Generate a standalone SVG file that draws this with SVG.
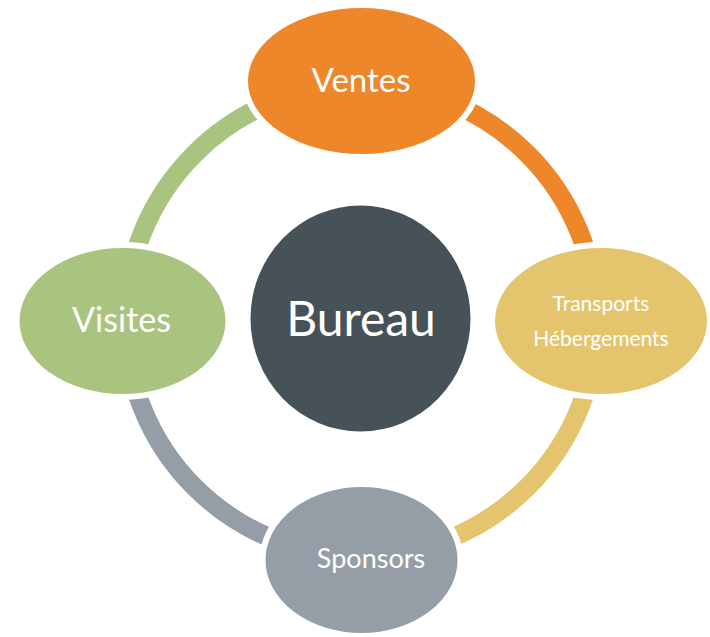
<svg xmlns="http://www.w3.org/2000/svg" width="710" height="637" viewBox="0 0 710 637">
<style>
.arc{fill:none;stroke-width:19;stroke-linecap:butt}
.node{stroke:#fff;stroke-width:6}
.lbl{font-family:Lato,"Open Sans","Liberation Sans",sans-serif;fill:#fff;text-anchor:middle}
</style>
<rect width="710" height="637" fill="#fff"/>
<g id="connectors">
<path class="arc" stroke="#A9C47F" d="M125.5,320.5 A235.5,235.5 0 0 1 361,85"/>
<path class="arc" stroke="#ED872A" d="M361,85 A235.5,235.5 0 0 1 596.5,320.5"/>
<path class="arc" stroke="#E5C46E" d="M596.5,320.5 A235.5,235.5 0 0 1 361,556"/>
<path class="arc" stroke="#959EA7" d="M361,556 A235.5,235.5 0 0 1 125.5,320.5"/>
</g>
<g id="bureau">
<ellipse cx="360.5" cy="318.5" rx="110" ry="113" fill="#465258"/>
<text class="lbl" x="361" y="336" font-size="48">Bureau</text>
</g>
<g id="ventes">
<ellipse class="node" cx="361.5" cy="81" rx="116.5" ry="76" fill="#ED872A"/>
<text class="lbl" x="361" y="92" font-size="33">Ventes</text>
</g>
<g id="transports">
<ellipse class="node" cx="601" cy="321" rx="109" ry="76" fill="#E5C46E"/>
<text class="lbl" x="601" y="311" font-size="21">Transports</text>
<text class="lbl" x="601" y="346" font-size="21">Hébergements</text>
</g>
<g id="sponsors">
<ellipse class="node" cx="361.5" cy="560" rx="99" ry="76" fill="#959EA7"/>
<text class="lbl" x="371" y="568" font-size="27">Sponsors</text>
</g>
<g id="visites">
<ellipse class="node" cx="122.5" cy="321" rx="106" ry="76" fill="#A9C47F"/>
<text class="lbl" x="121.5" y="332" font-size="34">Visites</text>
</g>
</svg>
